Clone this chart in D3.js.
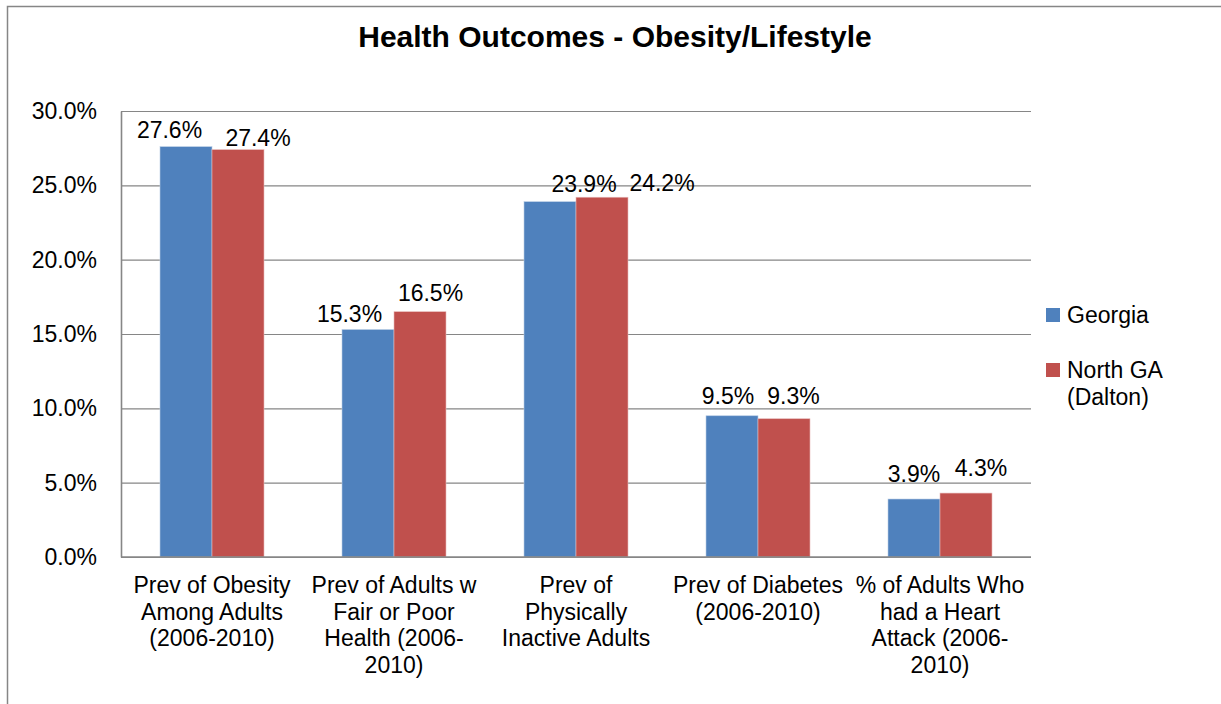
<!DOCTYPE html>
<html>
<head>
<meta charset="utf-8">
<script src="https://cdn.jsdelivr.net/npm/d3@7"></script>
<style>
  html, body { margin: 0; padding: 0; background: #fff; }
  svg { display: block; font-family: "Liberation Sans", Arial, sans-serif; }
</style>
</head>
<body>
<svg id="chart" width="1221" height="704"></svg>
<script>
// ---- data ----
const title = "Health Outcomes - Obesity/Lifestyle";
const categories = [
  "Prev of Obesity\nAmong Adults\n(2006-2010)",
  "Prev of Adults w\nFair or Poor\nHealth (2006-\n2010)",
  "Prev of\nPhysically\nInactive Adults",
  "Prev of Diabetes\n(2006-2010)",
  "% of Adults Who\nhad a Heart\nAttack (2006-\n2010)"
];
const seriesNames = ["Georgia", "North GA\n(Dalton)"];
const georgia = [27.6, 15.3, 23.9, 9.5, 3.9];
const northGA = [27.4, 16.5, 24.2, 9.3, 4.3];
const yTicks = [0, 5, 10, 15, 20, 25, 30];

// ---- layout / style (kept separate from data) ----
const colors = ["#4F81BD", "#C0504D"];
const labelDx = [[-16.5, -18.5, 34, -4, 0], [20, 10.5, 60, 9.5, 15]];
const labelGap = [[8.7, 8, 10, 11.7, 17.3], [3.6, 11, 6, 14.7, 17]];
const plot = { left: 121, right: 1031, top: 111, bottom: 557 };
const fontSize = 23;
const gray = "#868686";

const svg = d3.select("#chart");
const seriesValues = [georgia, northGA];

// chart border
svg.append("rect")
  .attr("x", 7.5).attr("y", 6.5)
  .attr("width", 1230).attr("height", 720)
  .attr("fill", "#fff").attr("stroke", gray).attr("stroke-width", 1.5);

// title
svg.append("text")
  .attr("x", 615).attr("y", 47)
  .attr("text-anchor", "middle")
  .attr("font-size", 30).attr("font-weight", "bold")
  .text(title);

// scales
const x0 = d3.scaleBand()
  .domain(d3.range(categories.length))
  .range([plot.left, plot.right])
  .paddingInner(78 / 182)
  .paddingOuter(39 / 182);
const x1 = d3.scaleBand()
  .domain(d3.range(seriesValues.length))
  .range([0, x0.bandwidth()]);
const y = d3.scaleLinear().domain([0, 30]).range([plot.bottom, plot.top]);

// y axis with gridlines
const yAxis = d3.axisLeft(y)
  .tickValues(yTicks)
  .tickFormat(d => d3.format(".1f")(d) + "%")
  .tickSize(-(plot.right - plot.left))
  .tickSizeOuter(0)
  .tickPadding(24);
const gy = svg.append("g")
  .attr("transform", `translate(${plot.left},0)`)
  .call(yAxis);
gy.selectAll(".tick line").attr("stroke", gray).attr("stroke-width", 1.2);
gy.selectAll(".tick text")
  .attr("font-size", fontSize)
  .attr("font-family", '"Liberation Sans", Arial, sans-serif')
  .attr("fill", "#000");
gy.select(".domain").attr("stroke", gray).attr("stroke-width", 1.6);

// bars
const groups = svg.append("g").selectAll("g")
  .data(seriesValues)
  .join("g")
  .attr("fill", (d, i) => colors[i]);

groups.selectAll("rect")
  .data((vals, si) => vals.map((v, ci) => ({ v, ci, si })))
  .join("rect")
  .attr("x", d => x0(d.ci) + x1(d.si))
  .attr("y", d => y(d.v))
  .attr("width", x1.bandwidth())
  .attr("height", d => y(0) - y(d.v))
  .attr("stroke", (d) => d.si === 0 ? "#B9CDE5" : "#E6B9B8")
  .attr("stroke-width", 0.6);

// data labels
groups.selectAll("text")
  .data((vals, si) => vals.map((v, ci) => ({ v, ci, si })))
  .join("text")
  .attr("x", d => x0(d.ci) + x1(d.si) + x1.bandwidth() / 2 + labelDx[d.si][d.ci])
  .attr("y", d => y(d.v) - labelGap[d.si][d.ci])
  .attr("text-anchor", "middle")
  .attr("font-size", fontSize)
  .attr("fill", "#000")
  .text(d => d3.format(".1f")(d.v) + "%");

// bottom axis line
svg.append("line")
  .attr("x1", plot.left).attr("x2", plot.right)
  .attr("y1", y(0)).attr("y2", y(0))
  .attr("stroke", gray).attr("stroke-width", 1.6);

// category labels
const catG = svg.append("g").selectAll("text")
  .data(categories)
  .join("text")
  .attr("text-anchor", "middle")
  .attr("font-size", fontSize)
  .attr("fill", "#000")
  .attr("transform", (d, i) => `translate(${x0(i) + x0.bandwidth() / 2},${plot.bottom + 36})`);
catG.selectAll("tspan")
  .data(d => d.split("\n"))
  .join("tspan")
  .attr("x", 0)
  .attr("y", (d, i) => i * 26.7)
  .text(d => d);

// legend
const legend = svg.append("g").attr("transform", "translate(1046,308)");
const li = legend.selectAll("g")
  .data(seriesNames)
  .join("g")
  .attr("transform", (d, i) => `translate(0,${i * 55})`);
li.append("rect")
  .attr("width", 14).attr("height", 14)
  .attr("fill", (d, i) => colors[i]);
const lt = li.append("text")
  .attr("x", 21).attr("y", 15)
  .attr("font-size", fontSize)
  .attr("fill", "#000");
lt.selectAll("tspan")
  .data(d => d.split("\n"))
  .join("tspan")
  .attr("x", 21)
  .attr("dy", (d, i) => i === 0 ? 0 : 26.7)
  .text(d => d);
</script>
</body>
</html>
